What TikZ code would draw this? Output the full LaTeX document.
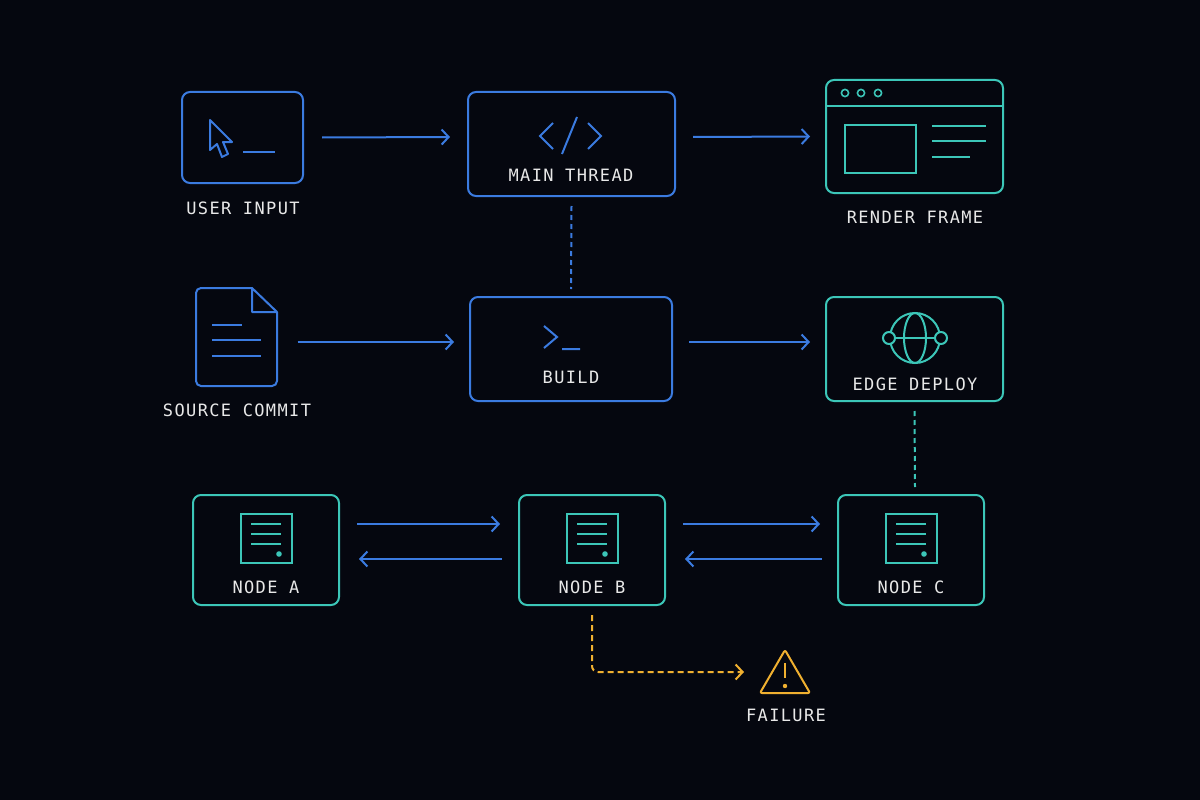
\documentclass[tikz,border=0pt]{standalone}
\usepackage{fontspec}
\setmonofont{DejaVu Sans Mono}[LetterSpace=8]
\usetikzlibrary{arrows.meta}
\definecolor{bg}{HTML}{05070F}
\definecolor{bl}{HTML}{3B7BE0}
\definecolor{tl}{HTML}{3CC6B8}
\definecolor{yl}{HTML}{F0B030}
\definecolor{tx}{HTML}{E8E8E8}
\begin{document}
\begin{tikzpicture}[x=1pt,y=-1pt,line width=2pt,
  box/.style={draw,rounded corners=8pt,inner sep=0pt},
  lbl/.style={text=tx,font=\ttfamily\fontsize{17}{19}\selectfont,inner sep=0pt,anchor=base},
  tip/.style={-{Straight Barb[length=7pt,width=15pt,line width=2pt]}},
  arr/.style={draw=bl,tip},
  dsh/.style={dash pattern=on 5pt off 4pt}]
\fill[bg] (0,0) rectangle (1200,800);
\useasboundingbox (0,0) rectangle (1200,800);
% boxes
\node[box,draw=bl,minimum width=121pt,minimum height=91pt] (ui) at (242.5,137.5) {};
\node[box,draw=bl,minimum width=207pt,minimum height=104pt] (mt) at (571.5,144) {};
\node[box,draw=tl,minimum width=177pt,minimum height=113pt] (rf) at (914.5,136.5) {};
\node[box,draw=bl,minimum width=202pt,minimum height=104pt] (bd) at (571,349) {};
\node[box,draw=tl,minimum width=177pt,minimum height=104pt] (ed) at (914.5,349) {};
\node[box,draw=tl,minimum width=146pt,minimum height=110pt] (na) at (266,550) {};
\node[box,draw=tl,minimum width=146pt,minimum height=110pt] (nb) at (592,550) {};
\node[box,draw=tl,minimum width=146pt,minimum height=110pt] (nc) at (911,550) {};
% source commit doc
\node[inner sep=0pt,minimum width=82pt,minimum height=98pt] (sc) at (236.5,337) {};
\draw[bl,rounded corners=5pt] (252,288) -- (196,288) -- (196,386) -- (277,386) -- (277,312);
\draw[bl,line join=round] (252,288) -- (277,312) -- (252,312) -- cycle;
\draw[bl] (212,325) -- (242,325) (212,340) -- (261,340) (212,356) -- (261,356);
% labels
\node[lbl] (l1) at (243,214) {USER INPUT};
\node[lbl] (l2) at (571,181) {MAIN THREAD};
\node[lbl] (l3) at (915,223) {RENDER FRAME};
\node[lbl] (l4) at (237,416) {SOURCE COMMIT};
\node[lbl] (l5) at (571,383) {BUILD};
\node[lbl] (l6) at (915,390) {EDGE DEPLOY};
\node[lbl] (l7) at (266,593) {NODE A};
\node[lbl] (l8) at (592,593) {NODE B};
\node[lbl] (l9) at (911,593) {NODE C};
\node[lbl] (l10) at (786,721) {FAILURE};
% icons: user input
\draw[bl,line join=round] (210,120) -- (210,150) -- (217,144) -- (222,157) -- (228,154) -- (223,142) -- (232,142) -- cycle;
\draw[bl] (243,152) -- (275,152);
% main thread </>
\draw[bl] (553,123) -- (540,136) -- (553,149) (588,123) -- (601,136) -- (588,149) (577,117) -- (562,154);
% build >_
\draw[bl] (544,326) -- (557,337) -- (544,348) (562,349) -- (580,349);
% render frame icon
\draw[tl] (826,106) -- (1003,106);
\foreach \x in {845,861,878} \draw[tl,line width=1.6pt] (\x,93) circle (3.6pt);
\draw[tl] (845,125) rectangle (916,173);
\draw[tl] (932,126) -- (986,126) (932,141) -- (986,141) (932,157) -- (970,157);
% globe
\draw[tl] (915,338) circle (25pt);
\draw[tl] (915,338) ellipse (11pt and 25pt);
\draw[tl] (895,338) -- (935,338);
\draw[tl,fill=bg] (889,338) circle (6pt) (941,338) circle (6pt);
% servers
\foreach \c in {na,nb,nc}{
  \draw[tl] ([shift={(-25,-36)}]\c.center) rectangle ([shift={(26,13)}]\c.center);
  \draw[tl] ([shift={(-15,-26)}]\c.center) -- ([shift={(15,-26)}]\c.center)
            ([shift={(-15,-16)}]\c.center) -- ([shift={(15,-16)}]\c.center)
            ([shift={(-15,-6)}]\c.center) -- ([shift={(15,-6)}]\c.center);
  \fill[tl] ([shift={(13,4)}]\c.center) circle (2.8pt);
}
% arrows
\draw[arr] ([xshift=18]ui.east) -- ([xshift=-17,yshift=7]mt.west);
\draw[arr] ([xshift=17,yshift=7]mt.east) -- ([xshift=-15]rf.west);
\draw[arr] ([xshift=19,yshift=-5]sc.east) -- ([xshift=-15,yshift=7]bd.west);
\draw[arr] ([xshift=16,yshift=7]bd.east) -- ([xshift=-15,yshift=7]ed.west);
\draw[arr] ([xshift=17,yshift=26]na.east) -- ([xshift=-18,yshift=26]nb.west);
\draw[arr] ([xshift=-16,yshift=-9]nb.west) -- ([xshift=19,yshift=-9]na.east);
\draw[arr] ([xshift=17,yshift=26]nb.east) -- ([xshift=-17,yshift=26]nc.west);
\draw[arr] ([xshift=-15,yshift=-9]nc.west) -- ([xshift=19,yshift=-9]nb.east);
% dashed links
\draw[bl,dsh] ([yshift=-9]mt.south) -- ([yshift=7]bd.north);
\draw[tl,dsh] ([yshift=-9]ed.south) -- ([yshift=7,xshift=4]nc.north);
% failure
\node[inner sep=0pt,minimum width=50pt,minimum height=44pt] (fl) at (785,672) {};
\draw[yl,line join=round,rounded corners=2pt] (785,650) -- (810,693) -- (760,693) -- cycle;
\draw[yl,line width=2.6pt] (785,663) -- (785,678);
\fill[yl] (785,686) circle (2.2pt);
\draw[yl,dash pattern=on 6pt off 4pt,rounded corners=6pt,tip]
  ([yshift=-9]nb.south) |- ([xshift=-15]fl.west);
\end{tikzpicture}
\end{document}
